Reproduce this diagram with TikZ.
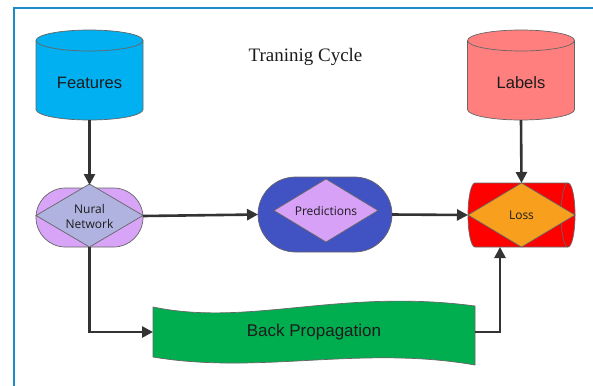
\documentclass[tikz,border=0pt]{standalone}
\usepackage{fontspec}
\setmainfont{Liberation Serif}
\newfontfamily\arialfont{Liberation Sans}
\newfontfamily\uifont{Open Sans}
\usetikzlibrary{arrows.meta,calc}

\definecolor{frameblue}{HTML}{1E8BC9}
\definecolor{featblue}{HTML}{00B0F0}
\definecolor{labelred}{HTML}{FF7F7F}
\definecolor{nnlilac}{HTML}{D7A4F7}
\definecolor{nndiamond}{HTML}{B0B3DF}
\definecolor{predblue}{HTML}{4153C3}
\definecolor{preddiamond}{HTML}{D8A1F8}
\definecolor{lossred}{HTML}{FF0000}
\definecolor{lossorange}{HTML}{F8A01E}
\definecolor{bpgreen}{HTML}{00AE4F}
\definecolor{shapeedge}{HTML}{666666}
\definecolor{arrowgray}{HTML}{333333}
\definecolor{textdark}{HTML}{1C1C1C}

\begin{document}
\begin{tikzpicture}[x=1bp,y=-1bp,
  outline/.style={draw=shapeedge, line width=0.7bp},
  flow/.style={draw=arrowgray, line width=2.6bp, -{Triangle[length=11bp,width=11bp]}},
  holder/.style={rectangle, draw=none, inner sep=0pt, outer sep=0pt},
  bigtxt/.style={font=\arialfont\fontsize{16.5bp}{19bp}\selectfont, text=textdark},
  smalltxt/.style={font=\uifont\fontsize{12bp}{15bp}\selectfont, text=textdark, align=center},
]
\useasboundingbox (0,0) rectangle (593,385);
\fill[white] (0,0) rectangle (593,385);

% frame
\draw[frameblue, line width=2bp] (14.3,386) -- (14.3,8.2) -- (594,8.2);

% title
\node[font=\fontsize{19bp}{22bp}\selectfont, text=textdark] (title) at (305.5,57) {Traninig Cycle};

% Features cylinder
\path[outline, fill=featblue] (36,40.5) -- (36,109.5)
  arc[start angle=180, end angle=0, x radius=53.5, y radius=10.5] -- (143,40.5)
  arc[start angle=0, end angle=-180, x radius=53.5, y radius=10.5] -- cycle;
\draw[outline] (36,40.5) arc[start angle=180, end angle=0, x radius=53.5, y radius=10.5];
\node[holder, bigtxt, minimum width=107bp, minimum height=74bp] (feat) at (89.5,83) {Features};

% Labels cylinder
\path[outline, fill=labelred] (467.5,40.5) -- (467.5,109.5)
  arc[start angle=180, end angle=0, x radius=53.5, y radius=10.5] -- (574.5,40.5)
  arc[start angle=0, end angle=-180, x radius=53.5, y radius=10.5] -- cycle;
\draw[outline] (467.5,40.5) arc[start angle=180, end angle=0, x radius=53.5, y radius=10.5];
\node[holder, bigtxt, minimum width=107bp, minimum height=74bp] (lab) at (521,83) {Labels};

% Nural Network: stadium with diamond
\path[outline, fill=nnlilac, rounded corners=29.5bp] (36,188) rectangle (143,247);
\path[outline, fill=nndiamond] (36,215.5) -- (89.5,184) -- (143,215.5) -- (89.5,247) -- cycle;
\node[holder, smalltxt, minimum width=107bp, minimum height=62bp] (nn) at (89.5,216) {Nural\\Network};

% Predictions: stadium with diamond
\path[outline, fill=predblue, rounded corners=37.5bp] (258,177) rectangle (392,252);
\path[outline, fill=preddiamond] (274,210.5) -- (326,179) -- (378,210.5) -- (326,242) -- cycle;
\node[holder, minimum width=134bp, minimum height=75bp] (pred) at (325,214.5) {};
\node[smalltxt] (predtxt) at (326,211) {Predictions};

% Loss: horizontal drum with diamond
\path[outline, fill=lossred] (475,183) -- (568,183)
  arc[start angle=-90, end angle=90, x radius=7, y radius=32] -- (475,247)
  arc[start angle=90, end angle=270, x radius=7, y radius=32] -- cycle;
\draw[outline] (568,183) arc[start angle=-90, end angle=-270, x radius=7, y radius=32];
\path[outline, fill=lossorange] (468,215) -- (521.5,183) -- (575,215) -- (521.5,247) -- cycle;
\node[holder, smalltxt, minimum width=107bp, minimum height=64bp] (loss) at (521.5,215) {Loss};

% Back Propagation: wavy banner
\path[outline, fill=bpgreen] (153,307) .. controls (250,327) and (340,288) .. (475,306)
  -- (475,365) .. controls (360,345) and (260,375) .. (153,357) -- cycle;
\node[holder, minimum width=322bp, minimum height=50bp,
  font=\arialfont\fontsize{17bp}{20bp}\selectfont, text=textdark] (bp) at (314,332) {Back Propagation};

% connectors
\draw[flow] (feat.south) -- (nn.north);
\draw[flow] (lab.south) -- (loss.north);
\draw[flow] (nn.east) -- (pred.west);
\draw[flow] (pred.east) -- (loss.west);
\draw[flow] (nn.south) |- (bp.west);
\draw[flow] (bp.east) -| ($(loss.south)+(-21.5,0)$);
\end{tikzpicture}
\end{document}
